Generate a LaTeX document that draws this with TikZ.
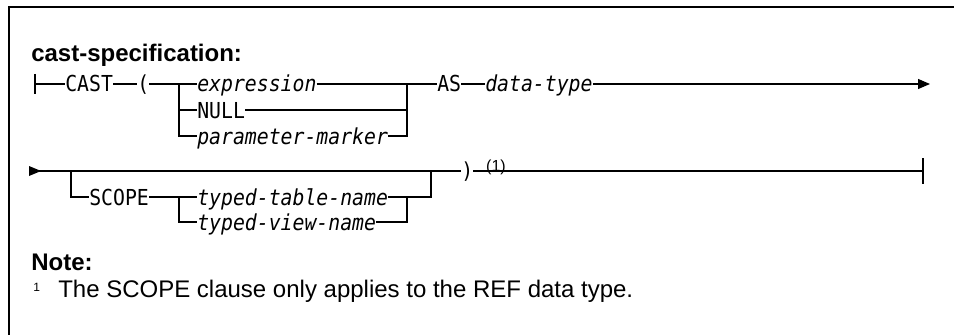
\documentclass[tikz,border=0pt]{standalone}
\usepackage{fontspec}
\setmainfont{Liberation Sans}
\setmonofont{DejaVu Sans Mono}[FakeStretch=0.9]
\usetikzlibrary{arrows.meta}

\tikzset{
  rail/.style={line width=0.8pt},
  kw/.style={font=\ttfamily\fontsize{16.5}{16.5}\selectfont, anchor=west, inner sep=0pt, text height=12pt, text depth=0pt},
  var/.style={kw, font=\ttfamily\itshape\fontsize{16.5}{16.5}\selectfont},
  head/.style={font=\bfseries\fontsize{18}{20}\selectfont, anchor=base west, inner sep=0pt},
}

\begin{document}
\begin{tikzpicture}[x=0.75pt,y=-0.75pt]
     \useasboundingbox (0,0) rectangle (954,335);
     \draw[line width=1.5pt] (954,7) -| (9,335);

     \node[head] (title) at (31,62) {cast-specification:};

     % first line
     \coordinate (s1) at (35,84);
     \node[kw] (cast) at (65,84) {CAST};
     \node[kw] (lpar) at (137,84) {(};
     \node[var] (expr) at (197,84) {expression};
     \node[kw] (null) at (197,110) {NULL};
     \node[var] (parm) at (197,136) {parameter-marker};
     \node[kw] (as) at (437,84) {AS};
     \node[var] (dtype) at (485,84) {data-type};
     \coordinate (b1l) at (179,84);
     \coordinate (b1r) at (407,84);
     \coordinate (e1) at (930,84);

     \draw[rail] (s1) ++(0,-10) -- ++(0,20);
     \draw[rail] (s1) -- (cast.west);
     \draw[rail] (cast.east) -- (lpar.west);
     \draw[rail] (lpar.east) -- (expr.west);
     \draw[rail] (b1l) |- (parm.west);
     \draw[rail] (b1l |- null.west) -- (null.west);
     \draw[rail] (expr.east) -- (as.west);
     \draw[rail] (null.east) -| (b1r);
     \draw[rail] (parm.east) -| (b1r);
     \draw[rail] (as.east) -- (dtype.west);
     \draw[rail,-{Triangle[length=9pt,width=7.5pt]}] (dtype.east) -- (e1);

     % second line
     \coordinate (s2) at (29,171);
     \node[kw] (scope) at (89,197) {SCOPE};
     \node[var] (ttab) at (197,197) {typed-table-name};
     \node[var] (tview) at (197,222) {typed-view-name};
     \node[kw] (rpar) at (461,171) {)};
     \node[font=\fontsize{12}{12}\selectfont, inner sep=0pt] (n1) at (496,167) {(1)};
     \coordinate (b2l) at (71,171);
     \coordinate (b2r) at (431,171);
     \coordinate (b3l) at (179,197);
     \coordinate (b3r) at (407,197);
     \coordinate (e2) at (923,171);

     \fill (s2) ++(0,-5) -- ++(12,5) -- ++(-12,5) -- cycle;
     \draw[rail] (s2) -- (rpar.west);
     \draw[rail] (b2l) |- (scope.west);
     \draw[rail] (scope.east) -- (ttab.west);
     \draw[rail] (b3l) |- (tview.west);
     \draw[rail] (ttab.east) -| (b2r);
     \draw[rail] (tview.east) -| (b3r);
     \draw[rail] (rpar.east) -- (e2);
     \draw[rail] (e2) ++(0,-13) -- ++(0,26);

     % note
     \node[head] (note) at (31,270) {Note:};
     \node[font=\fontsize{9}{9}\selectfont, anchor=base west, inner sep=0pt] (fn) at (33,291) {1};
     \node[font=\fontsize{18}{20}\selectfont, anchor=base west, inner sep=0pt] (fntext) at (58,297) {The SCOPE clause only applies to the REF data type.};
\end{tikzpicture}
\end{document}
